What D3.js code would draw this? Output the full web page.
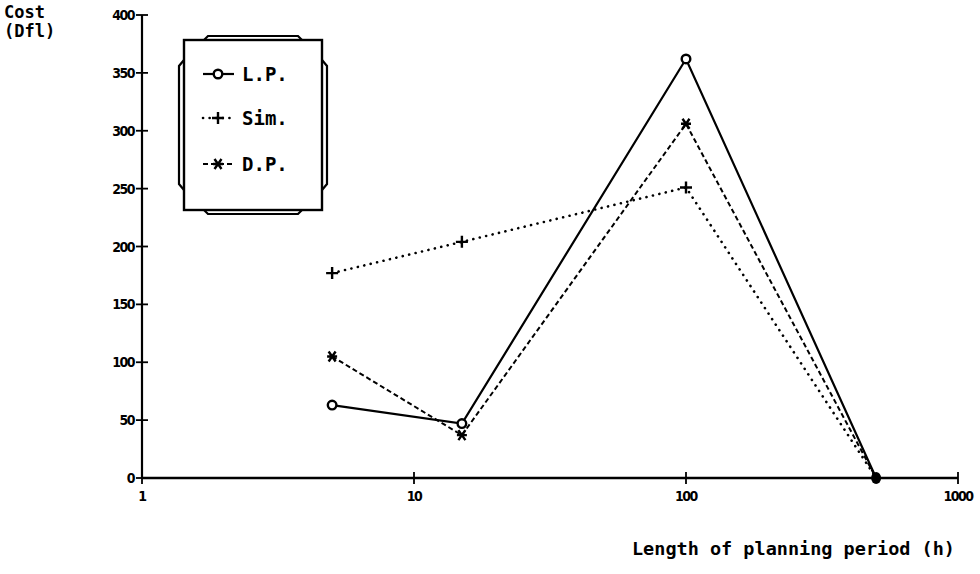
<!DOCTYPE html>
<html>
<head>
<meta charset="utf-8">
<script src="https://cdn.jsdelivr.net/npm/d3@7/dist/d3.min.js"></script>
<style>
  html, body { margin: 0; padding: 0; background: #fff; }
  svg { display: block; }
  .tick-label { font-family: "DejaVu Sans Condensed", "DejaVu Sans", sans-serif; font-weight: bold; font-size: 14px; letter-spacing: -1.5px; fill: #000; }
  .mono { font-family: "DejaVu Sans Mono", monospace; font-weight: bold; fill: #000; }
</style>
</head>
<body>
<svg id="chart" width="980" height="574"></svg>
<script>
// Planning period length (hours) and cost per method
const periods = [5, 15, 100, 500];
const lpCost  = [63, 47, 362, 0];
const simCost = [177, 204, 251, 0];
const dpCost  = [105, 37, 306, 0];

const xTicks = [1, 10, 100, 1000];
const yTicks = [0, 50, 100, 150, 200, 250, 300, 350, 400];

const svg = d3.select("#chart");

const x = d3.scaleLog().domain([1, 1000]).range([142, 958]);
const y = d3.scaleLinear().domain([0, 400]).range([478, 15]);

// Axes
const yAxis = svg.append("g");
yAxis.append("line").attr("x1", x(1)).attr("x2", x(1)).attr("y1", y(400)).attr("y2", y(0))
  .attr("stroke", "#000").attr("stroke-width", 2.2);
yAxis.selectAll("line.t").data(yTicks).enter().append("line").attr("class", "t")
  .attr("x1", d => x(1) - 6).attr("x2", d => x(1) + 6)
  .attr("y1", d => y(d)).attr("y2", d => y(d))
  .attr("stroke", "#000").attr("stroke-width", 1.8);
yAxis.selectAll("text").data(yTicks).enter().append("text").attr("class", "tick-label")
  .attr("x", x(1) - 8).attr("y", d => y(d) + 5).attr("text-anchor", "end").text(d => d);

const xAxis = svg.append("g");
xAxis.append("line").attr("x1", x(1)).attr("x2", x(1000)).attr("y1", y(0)).attr("y2", y(0))
  .attr("stroke", "#000").attr("stroke-width", 2.4);
xAxis.selectAll("line.t").data(xTicks).enter().append("line").attr("class", "t")
  .attr("x1", d => x(d)).attr("x2", d => x(d))
  .attr("y1", y(0) - 6).attr("y2", y(0) + 6)
  .attr("stroke", "#000").attr("stroke-width", 1.8);
xAxis.selectAll("text").data(xTicks).enter().append("text").attr("class", "tick-label")
  .attr("x", d => x(d)).attr("y", y(0) + 23).attr("text-anchor", "middle").text(d => d);

// Axis titles
svg.append("text").attr("class", "mono").attr("x", 4).attr("y", 18).attr("font-size", 17).text("Cost");
svg.append("text").attr("class", "mono").attr("x", 4).attr("y", 37).attr("font-size", 17).text("(Dfl)");
svg.append("text").attr("class", "mono").attr("x", 955).attr("y", 555).attr("font-size", 18.5)
  .attr("text-anchor", "end").text("Length of planning period  (h)");

const line = d3.line().x(d => x(d[0])).y(d => y(d[1]));
const DOTS = "0.1,6.5";
const series = [
  { name: "L.P.",  values: lpCost,  dash: null,  width: 2.2, marker: "circle" },
  { name: "Sim.",  values: simCost, dash: DOTS,  width: 2.6, marker: "plus" },
  { name: "D.P.",  values: dpCost,  dash: "5,3", width: 2.0, marker: "star" }
];

function drawMarker(g, type, cx, cy) {
  if (type === "circle") {
    g.append("circle").attr("cx", cx).attr("cy", cy).attr("r", 4.3)
      .attr("fill", "#fff").attr("stroke", "#000").attr("stroke-width", 2.4);
  } else if (type === "plus") {
    g.append("path").attr("d", `M${cx-6},${cy}H${cx+6}M${cx},${cy-6}V${cy+6}`)
      .attr("stroke", "#000").attr("stroke-width", 2.4);
  } else {
    g.append("path").attr("d",
      `M${cx-5},${cy}H${cx+5}M${cx-3.5},${cy-5}L${cx+3.5},${cy+5}M${cx+3.5},${cy-5}L${cx-3.5},${cy+5}`)
      .attr("stroke", "#000").attr("stroke-width", 2.4);
  }
}

series.forEach(s => {
  const pts = periods.map((p, i) => [p, s.values[i]]);
  svg.append("path").attr("d", line(pts)).attr("fill", "none").attr("stroke", "#000")
    .attr("stroke-width", s.width).attr("stroke-dasharray", s.dash)
    .attr("stroke-linecap", s.dash === DOTS ? "round" : "butt");
  const g = svg.append("g");
  pts.forEach(p => { if (p[1] > 0) drawMarker(g, s.marker, x(p[0]), y(p[1])); });
});
// Coinciding end point at zero cost
svg.append("ellipse").attr("cx", x(periods[3])).attr("cy", y(0)).attr("rx", 5).attr("ry", 6).attr("fill", "#000");

// Legend with framed border
const lg = svg.append("g");
const L = 184, R = 322, T = 40, B = 210;
lg.append("rect").attr("x", L).attr("y", T).attr("width", R - L).attr("height", B - T)
  .attr("fill", "#fff").attr("stroke", "#000").attr("stroke-width", 2.4);
const frame = [
  `M${L+20},${T} L${L+24},${T-4} H${R-24} L${R-20},${T}`,
  `M${L+20},${B} L${L+24},${B+4} H${R-24} L${R-20},${B}`,
  `M${L},${T+20} L${L-5},${T+26} V${B-26} L${L},${B-20}`,
  `M${R},${T+20} L${R+5},${T+26} V${B-26} L${R},${B-20}`
];
frame.forEach(d => lg.append("path").attr("d", d).attr("fill", "none").attr("stroke", "#000").attr("stroke-width", 2.2));

const legendY = [74, 118, 164];
series.forEach((s, i) => {
  const ly = legendY[i];
  lg.append("line").attr("x1", 203).attr("x2", 234).attr("y1", ly).attr("y2", ly)
    .attr("stroke", "#000").attr("stroke-width", s.width).attr("stroke-dasharray", s.dash)
    .attr("stroke-linecap", s.dash === DOTS ? "round" : "butt");
  drawMarker(lg, s.marker, 218, ly);
  lg.append("text").attr("class", "mono").attr("x", 242).attr("y", ly + 7).attr("font-size", 19).text(s.name);
});
</script>
</body>
</html>
